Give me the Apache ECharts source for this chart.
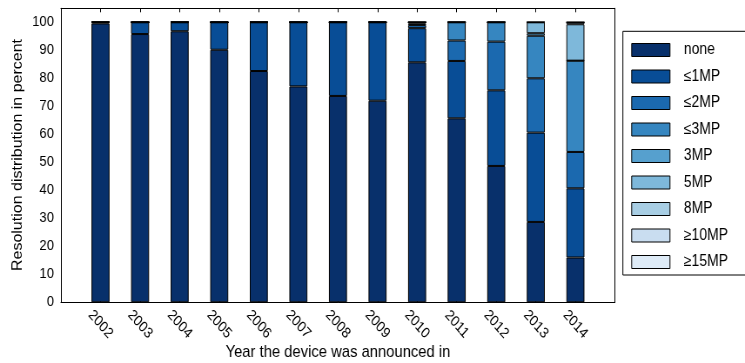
<!DOCTYPE html>
<html>
<head>
<meta charset="utf-8">
<script src="https://cdn.jsdelivr.net/npm/echarts@6/dist/echarts.min.js"></script>
<style>
  html, body { margin: 0; padding: 0; overflow: hidden; background: #fff; }
  #wrap { position: relative; width: 745px; height: 363px; overflow: hidden; background: #fff; }
  /* the figure is laid out on a wider canvas and narrowed horizontally */
  #chart { position: absolute; left: 0; top: 0; width: 1000px; height: 363px; transform: scaleX(0.8703); transform-origin: 0 0; }
</style>
</head>
<body>
<div id="wrap"><div id="chart"></div></div>
<script>
// Years on the x axis
const years = [2002, 2003, 2004, 2005, 2006, 2007, 2008, 2009, 2010, 2011, 2012, 2013, 2014];

// Resolution classes (stack order, bottom to top)
const classes = ['none', '≤1MP', '≤2MP', '≤3MP', '3MP', '5MP', '8MP', '≥10MP', '≥15MP'];

// Share of devices (percent) per resolution class and year
const shareNone  = [99.6, 95.8, 96.8, 90.2, 82.6, 77.1, 73.7, 72.0, 85.7, 65.7, 48.7, 28.7, 16.0];
const shareLe1   = [0.4, 4.2, 3.2, 9.8, 17.4, 22.9, 26.3, 28.0, 12.2, 20.5, 27.0, 31.9, 24.7];
const shareLe2   = [0, 0, 0, 0, 0, 0, 0, 0, 1.1, 7.3, 17.4, 19.4, 13.0];
const shareLe3   = [0, 0, 0, 0, 0, 0, 0, 0, 0.6, 6.5, 6.9, 15.2, 32.6];
const share3     = [0, 0, 0, 0, 0, 0, 0, 0, 0.4, 0, 0, 0.9, 0];
const share5     = [0, 0, 0, 0, 0, 0, 0, 0, 0, 0, 0, 3.9, 13.0];
const share8     = [0, 0, 0, 0, 0, 0, 0, 0, 0, 0, 0, 0, 0.7];
const shareGe10  = [0, 0, 0, 0, 0, 0, 0, 0, 0, 0, 0, 0, 0];
const shareGe15  = [0, 0, 0, 0, 0, 0, 0, 0, 0, 0, 0, 0, 0];

// Y axis tick values
const yTicks = [0, 10, 20, 30, 40, 50, 60, 70, 80, 90, 100];

const shares = [shareNone, shareLe1, shareLe2, shareLe3, share3, share5, share8, shareGe10, shareGe15];
const colors = ['#08306b', '#084d96', '#1b69af', '#3686c0', '#56a0ce', '#7eb8da', '#a8cee4', '#c9ddf0', '#deebf7'];

const FONT = "'Liberation Sans', Arial, Helvetica, sans-serif";

// one empty slot on each side of the years, so the frame spans a full slot of padding
const slots = [''].concat(years.map(String), ['']);
const isYearSlot = (idx) => idx > 0 && idx < slots.length - 1;

const chart = echarts.init(document.getElementById('chart'), null, { renderer: 'canvas' });

const xCommon = {
  type: 'category', data: slots, boundaryGap: false,
  splitLine: { show: false },
  axisLine: { show: true, onZero: false, lineStyle: { color: '#000', width: 1 } },
  axisTick: { inside: true, length: 4, interval: isYearSlot, lineStyle: { color: '#000' } }
};
const yCommon = {
  type: 'value', min: 0, max: 105, interval: 10,
  splitLine: { show: false },
  axisLine: { show: true, onZero: false, lineStyle: { color: '#000', width: 1 } },
  axisTick: { inside: true, length: 4.6, customValues: yTicks, lineStyle: { color: '#000' } }
};

const option = {
  animation: false,
  backgroundColor: '#fff',
  grid: { left: 70, right: 293.4, top: 8.3, bottom: 60.7, show: false },
  xAxis: [
    Object.assign({}, xCommon, {
      position: 'bottom',
      axisLabel: {
        interval: isYearSlot, rotate: -45, align: 'center', verticalAlign: 'middle',
        margin: 22, fontSize: 15, fontFamily: FONT, color: '#000'
      }
    }),
    Object.assign({}, xCommon, {
      position: 'top',
      axisLabel: { show: false }
    })
  ],
  yAxis: [
    Object.assign({}, yCommon, {
      position: 'left',
      axisLabel: { customValues: yTicks, margin: 8, fontSize: 15, fontFamily: FONT, color: '#000' }
    }),
    Object.assign({}, yCommon, {
      position: 'right',
      axisLabel: { show: false }
    })
  ],
  legend: {
    orient: 'vertical',
    left: 715.7, top: 31.3,
    padding: [10.7, 10, 4.7, 9.6],
    itemWidth: 44, itemHeight: 13, itemGap: 10.5,
    borderWidth: 0,
    icon: 'rect',
    itemStyle: { borderColor: '#000', borderWidth: 1 },
    textStyle: { fontSize: 16, lineHeight: 16, fontFamily: FONT, color: '#000', padding: [0, 0, 0, 11] },
    data: classes
  },
  graphic: [
    {
      // legend frame, running past the right edge of the figure
      type: 'rect', silent: true, z: 0,
      shape: { x: 715.7, y: 31.3, width: 240, height: 243.7 },
      style: { fill: '#fff', stroke: '#000', lineWidth: 1 }
    },
    {
      type: 'text', x: 20.7, y: 155, rotation: Math.PI / 2,
      style: {
        text: 'Resolution distribution in percent', font: '16px ' + FONT,
        fill: '#000', align: 'center', verticalAlign: 'middle'
      }
    },
    {
      type: 'text', x: 388.3, y: 352,
      style: {
        text: 'Year the device was announced in', font: '17px ' + FONT,
        fill: '#000', align: 'center', verticalAlign: 'middle'
      }
    }
  ],
  series: classes.map((name, k) => ({
    name: name,
    type: 'bar',
    stack: 'share',
    xAxisIndex: 0,
    yAxisIndex: 0,
    barWidth: 20.7,
    itemStyle: { color: colors[k], borderColor: '#000', borderWidth: 1 },
    emphasis: { disabled: true },
    data: [null].concat(shares[k], [null])
  }))
};

chart.setOption(option);
</script>
</body>
</html>
